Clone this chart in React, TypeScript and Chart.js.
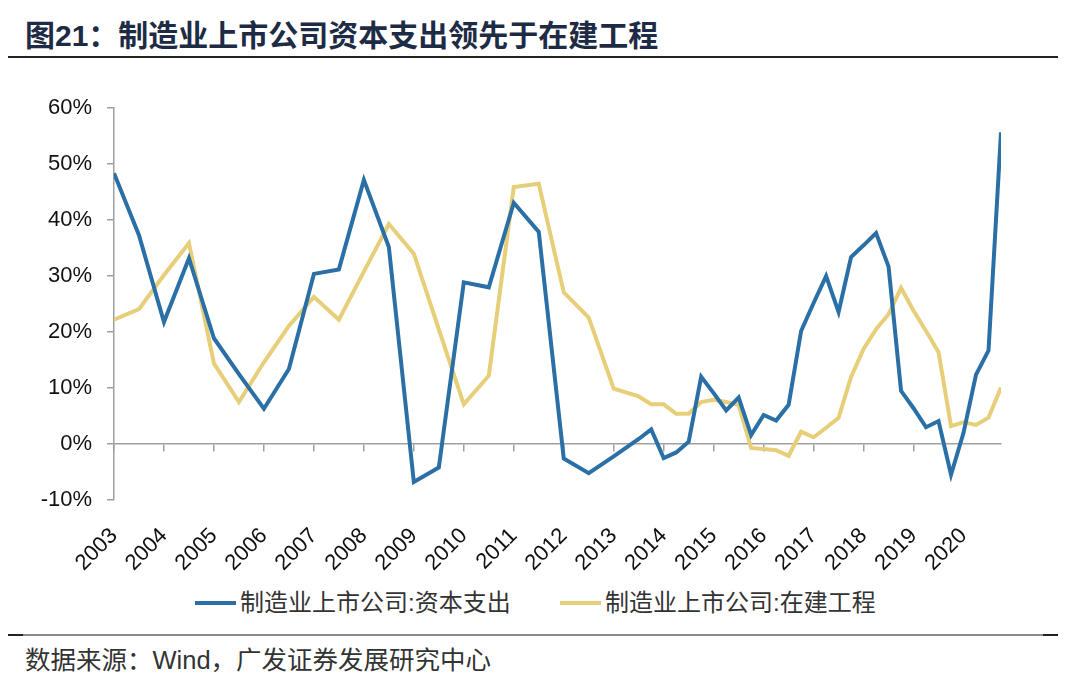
import React, { useEffect, useRef } from 'react';
import { Chart, registerables } from 'chart.js';

Chart.register(...registerables);

// Reporting periods as year fractions (semi-annual to mid-2013, quarterly afterwards)
const periods = [
  2003.0, 2003.5, 2004.0, 2004.5, 2005.0, 2005.5, 2006.0, 2006.5, 2007.0, 2007.5,
  2008.0, 2008.5, 2009.0, 2009.5, 2010.0, 2010.5, 2011.0, 2011.5, 2012.0, 2012.5,
  2013.0, 2013.5, 2013.75, 2014.0, 2014.25, 2014.5, 2014.75, 2015.0, 2015.25, 2015.5,
  2015.75, 2016.0, 2016.25, 2016.5, 2016.75, 2017.0, 2017.25, 2017.5, 2017.75, 2018.0,
  2018.25, 2018.5, 2018.75, 2019.0, 2019.25, 2019.5, 2019.75, 2020.0, 2020.25, 2020.5,
  2020.75,
];

// 制造业上市公司:资本支出 (%)
const capexGrowth = [
  48.4, 37.3, 21.8, 33.2, 18.9, 12.5, 6.3, 13.4, 30.4, 31.2,
  47.2, 35.2, -6.8, -4.2, 28.9, 28.0, 43.1, 37.9, -2.6, -5.2,
  -2.2, 0.9, 2.6, -2.5, -1.5, 0.4, 12.0, 9.1, 6.0, 8.3,
  1.6, 5.2, 4.2, 7.0, 20.2, 25.2, 30.0, 23.6, 33.4, 35.5,
  37.7, 31.7, 9.5, 6.4, 3.0, 4.1, -5.5, 2.0, 12.4, 16.7,
  55.7,
];

// 制造业上市公司:在建工程 (%)
const cipGrowth = [
  22.2, 24.1, 30.2, 35.9, 14.4, 7.5, 14.6, 21.1, 26.3, 22.2,
  30.8, 39.3, 34.0, 20.5, 7.1, 12.2, 45.9, 46.5, 27.1, 22.6,
  9.9, 8.5, 7.1, 7.1, 5.4, 5.4, 7.5, 7.9, 7.5, 7.0,
  -0.7, -0.9, -1.1, -2.1, 2.2, 1.2, 2.9, 4.7, 12.0, 17.0,
  20.5, 23.2, 27.9, 23.8, 20.2, 16.4, 3.2, 3.9, 3.4, 4.7,
  10.1,
];

const seriesNames = ['制造业上市公司:资本支出', '制造业上市公司:在建工程'];
const xRange = [2003, 2020.75];
const yRange = [-10, 60];

const titleText = '图21：制造业上市公司资本支出领先于在建工程';
const sourceText = '数据来源：Wind，广发证券发展研究中心';

const BLUE = '#2a6fa6';
const YELLOW = '#e6cf78';
const SERIES_COLORS = [BLUE, YELLOW];
const AXIS_GRAY = '#a0a0a0';
const FONT = "'Liberation Sans', Arial, 'Noto Sans CJK SC', sans-serif";

export default function App() {
  const canvasRef = useRef<HTMLCanvasElement>(null);

  useEffect(() => {
    const keepYears = (s: any) => {
      s.ticks = s.ticks.filter((t: any) => Number.isInteger(t.value));
    };
    const chart = new Chart(canvasRef.current as HTMLCanvasElement, {
      type: 'line',
      data: {
        datasets: [
          {
            label: seriesNames[0],
            data: periods.map((p, i) => ({ x: p, y: capexGrowth[i] })),
            borderColor: SERIES_COLORS[0],
            backgroundColor: SERIES_COLORS[0],
            borderWidth: 4,
            pointRadius: 0,
            tension: 0,
            fill: false,
            xAxisID: 'x',
            yAxisID: 'y',
          },
          {
            label: seriesNames[1],
            data: periods.map((p, i) => ({ x: p, y: cipGrowth[i] })),
            borderColor: SERIES_COLORS[1],
            backgroundColor: SERIES_COLORS[1],
            borderWidth: 4,
            pointRadius: 0,
            tension: 0,
            fill: false,
            xAxisID: 'x',
            yAxisID: 'y',
          },
        ],
      },
      options: {
        animation: false,
        responsive: false,
        maintainAspectRatio: false,
        layout: { padding: { top: 22, left: 0, right: 0, bottom: 0 } },
        plugins: {
          tooltip: { enabled: false },
          legend: { display: false },
        },
        scales: {
          x: {
            type: 'linear',
            position: 'bottom',
            min: xRange[0],
            max: xRange[1],
            afterBuildTicks: keepYears,
            afterFit: (s: any) => {
              s.height = 80;
            },
            ticks: {
              stepSize: 1,
              autoSkip: false,
              minRotation: 45,
              maxRotation: 45,
              padding: 23,
              color: '#111',
              font: { family: FONT, size: 22 },
              callback: (v: any) => String(v),
            },
            grid: { display: false, drawTicks: false },
            border: { display: false },
          },
          x0: {
            type: 'linear',
            axis: 'x',
            position: { y: 0 },
            min: xRange[0],
            max: xRange[1],
            afterBuildTicks: keepYears,
            ticks: { display: false, stepSize: 1 },
            grid: {
              display: true,
              drawOnChartArea: false,
              drawTicks: true,
              tickLength: 7,
              color: AXIS_GRAY,
              lineWidth: 1.5,
            },
            border: { display: true, color: AXIS_GRAY, width: 1.5 },
          },
          y: {
            type: 'linear',
            position: 'left',
            min: yRange[0],
            max: yRange[1],
            afterFit: (s: any) => {
              s.width = 106;
            },
            ticks: {
              stepSize: 10,
              padding: 15,
              color: '#111',
              font: { family: FONT, size: 22 },
              callback: (v: any) => v + '%',
            },
            grid: {
              display: true,
              drawOnChartArea: false,
              drawTicks: true,
              tickLength: 7,
              color: AXIS_GRAY,
              lineWidth: 1.5,
            },
            border: { display: true, color: AXIS_GRAY, width: 1.5 },
          },
          yR: {
            type: 'linear',
            position: 'right',
            afterFit: (s: any) => {
              s.width = 59;
            },
            ticks: { display: false },
            grid: { display: false, drawTicks: false },
            border: { display: false },
          },
        },
      } as any,
    });
    return () => chart.destroy();
  }, []);

  const legendLefts = [187, 552];

  return (
    <div style={{ position: 'relative', width: 1064, height: 671 }}>
      <div
        style={{
          position: 'absolute',
          left: 17,
          top: 12,
          fontFamily: FONT,
          fontWeight: 700,
          fontSize: 30,
          lineHeight: '31px',
          color: '#1e2b45',
          whiteSpace: 'nowrap',
        }}
      >
        {titleText}
      </div>
      <div
        style={{
          position: 'absolute',
          left: 0,
          top: 48,
          width: 1050,
          height: 2,
          background: '#222',
        }}
      />
      <canvas
        ref={canvasRef}
        width={1052}
        height={500}
        style={{ position: 'absolute', left: 0, top: 72, width: 1052, height: 500 }}
      />
      {seriesNames.map((name, i) => (
        <div
          key={name}
          style={{
            position: 'absolute',
            left: legendLefts[i],
            top: 583,
            height: 24,
            display: 'flex',
            alignItems: 'center',
            whiteSpace: 'nowrap',
          }}
        >
          <div style={{ width: 41, height: 4, background: SERIES_COLORS[i], marginRight: 4 }} />
          <span
            style={{
              fontFamily: FONT,
              fontSize: 24,
              lineHeight: '24px',
              color: '#333',
            }}
          >
            {name}
          </span>
        </div>
      ))}
      <div
        style={{
          position: 'absolute',
          left: 0,
          top: 626,
          width: 1050,
          height: 2,
          background: '#8a8a8a',
        }}
      />
      <div style={{ position: 'absolute', left: 0, top: 626, width: 15, height: 2, background: '#222' }} />
      <div style={{ position: 'absolute', left: 1035, top: 626, width: 15, height: 2, background: '#222' }} />
      <div
        style={{
          position: 'absolute',
          left: 17,
          top: 640,
          fontFamily: FONT,
          fontSize: 25.5,
          lineHeight: '25px',
          color: '#333',
          whiteSpace: 'nowrap',
        }}
      >
        {sourceText}
      </div>
    </div>
  );
}
